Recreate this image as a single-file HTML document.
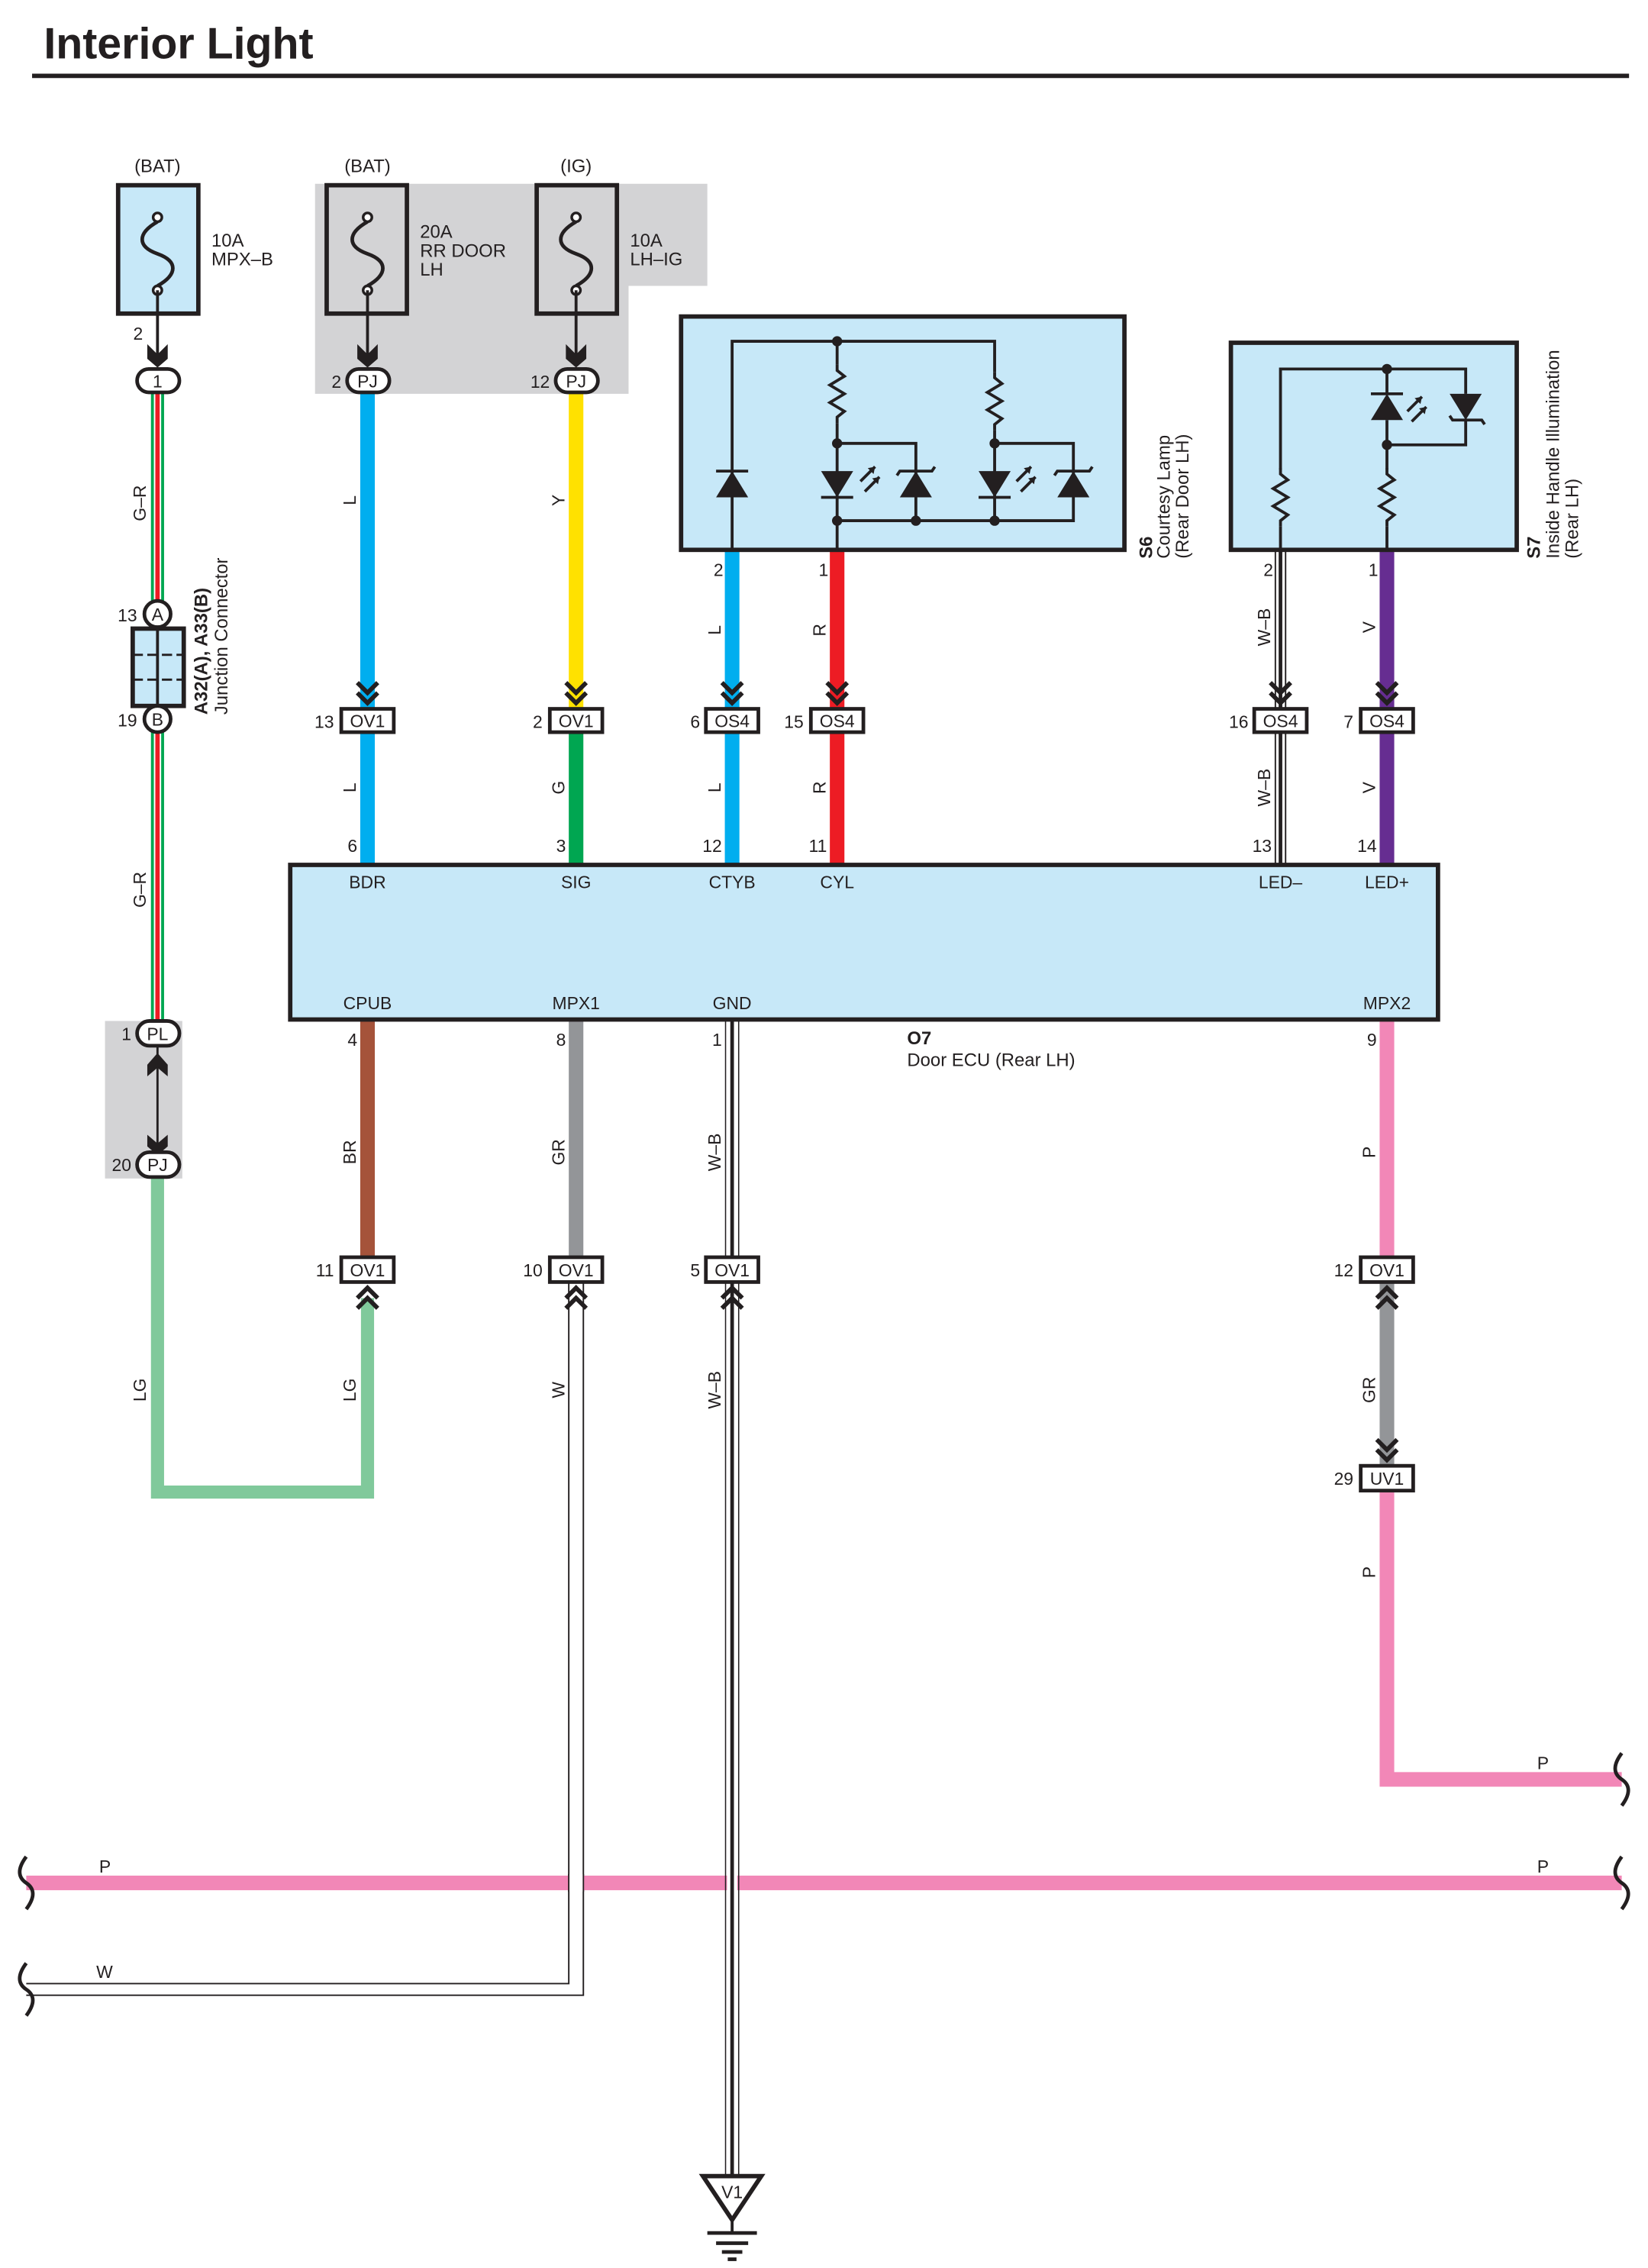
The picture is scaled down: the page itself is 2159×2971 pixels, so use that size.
<!DOCTYPE html>
<html><head><meta charset="utf-8"><style>
html,body{margin:0;padding:0;background:#fff}
svg{display:block}
text{font-family:"Liberation Sans",Arial,sans-serif;fill:#231f20}
</style></head><body>
<svg width="2159" height="2971" viewBox="0 0 1130 1555" preserveAspectRatio="none" xmlns="http://www.w3.org/2000/svg">
<defs>
<path id="chd" d="M-7,-17 L0,-10 L7,-17 M-7,-10 L0,-3 L7,-10" fill="none" stroke="#231f20" stroke-width="3"/>
<path id="chu" d="M-7,17 L0,10 L7,17 M-7,10 L0,3 L7,10" fill="none" stroke="#231f20" stroke-width="3"/>
<g id="fuse" fill="none" stroke="#231f20" stroke-width="2.5">
<circle cx="0" cy="-25" r="3" fill="#fff" stroke-width="1.8"/>
<path d="M0,-22 C-14,-14 -14,-5 0,0 C14,5 14,14 0,22"/>
<circle cx="0" cy="25" r="3" fill="#fff" stroke-width="1.8"/>
</g>
<path id="res" d="M0,0 L0,4 L5,8 L-5,14 L5,20 L-5,26 L5,32 L0,36 L0,40" fill="none" stroke="#231f20" stroke-width="2"/>
<path id="brk" d="M0,-18 C-6,-10 -6,-4 0,0 C6,4 6,10 0,18" fill="none" stroke="#231f20" stroke-width="2.5"/>
</defs>

<text x="30" y="40" font-size="30" font-weight="bold">Interior Light</text>
<line x1="22" y1="52" x2="1117" y2="52" stroke="#231f20" stroke-width="3"/>

<path d="M216,126 H485 V196 H431 V270 H216 Z" fill="#d3d3d5"/>
<rect x="72" y="700" width="53" height="108" fill="#d3d3d5"/>

<g font-size="12.5">
<text x="108" y="118" text-anchor="middle">(BAT)</text>
<text x="252" y="118" text-anchor="middle">(BAT)</text>
<text x="395" y="118" text-anchor="middle">(IG)</text>
<text x="145" y="169">10A</text><text x="145" y="182">MPX–B</text>
<text x="288" y="163">20A</text><text x="288" y="176">RR DOOR</text><text x="288" y="189">LH</text>
<text x="432" y="169">10A</text><text x="432" y="182">LH–IG</text>
</g>
<rect x="81" y="127" width="55" height="88" fill="#c7e8f8" stroke="#231f20" stroke-width="3"/>
<rect x="224" y="127" width="55" height="88" fill="#d3d3d5" stroke="#231f20" stroke-width="3"/>
<rect x="368" y="127" width="55" height="88" fill="#d3d3d5" stroke="#231f20" stroke-width="3"/>
<use href="#fuse" x="108" y="174"/><use href="#fuse" x="252" y="174"/><use href="#fuse" x="395" y="174"/>
<g stroke="#231f20" stroke-width="2">
<line x1="108" y1="199" x2="108" y2="246"/><line x1="252" y1="199" x2="252" y2="246"/><line x1="395" y1="199" x2="395" y2="246"/>
</g>
<g fill="#231f20">
<path d="M101,236 L108,243 L115,236 L115,246 L108,252 L101,246Z"/>
<path d="M245,236 L252,243 L259,236 L259,246 L252,252 L245,246Z"/>
<path d="M388,236 L395,243 L402,236 L402,246 L395,252 L388,246Z"/>
</g>
<text x="98" y="233" font-size="12" text-anchor="end">2</text>

<g fill="none">
<line x1="108" y1="268" x2="108" y2="700" stroke="#00a651" stroke-width="9"/>
<line x1="108" y1="268" x2="108" y2="700" stroke="#fff" stroke-width="5"/>
<line x1="108" y1="268" x2="108" y2="700" stroke="#ed1c24" stroke-width="3"/>
<line x1="252" y1="268" x2="252" y2="592" stroke="#00aeef" stroke-width="10"/>
<line x1="395" y1="268" x2="395" y2="487" stroke="#ffe100" stroke-width="10"/>
<line x1="395" y1="500" x2="395" y2="592" stroke="#00a651" stroke-width="10"/>
<line x1="502" y1="378" x2="502" y2="592" stroke="#00aeef" stroke-width="10"/>
<line x1="574" y1="378" x2="574" y2="592" stroke="#ed1c24" stroke-width="10"/>
<line x1="878" y1="378" x2="878" y2="592" stroke="#231f20" stroke-width="8"/>
<line x1="878" y1="378" x2="878" y2="592" stroke="#fff" stroke-width="6"/>
<line x1="878" y1="378" x2="878" y2="592" stroke="#231f20" stroke-width="2.5"/>
<line x1="951" y1="378" x2="951" y2="592" stroke="#662d91" stroke-width="10"/>
</g>

<g stroke="#231f20" stroke-width="2.5" fill="#fff">
<rect x="94" y="253" width="29" height="16" rx="8"/>
<rect x="238" y="253" width="29" height="16" rx="8"/>
<rect x="381" y="253" width="29" height="16" rx="8"/>
</g>
<g font-size="12" text-anchor="middle">
<text x="108" y="265.5">1</text><text x="252" y="265.5">PJ</text><text x="395" y="265.5">PJ</text>
</g>
<text x="234" y="266" font-size="12" text-anchor="end">2</text>
<text x="377" y="266" font-size="12" text-anchor="end">12</text>

<rect x="91" y="431" width="35" height="53" fill="#c7e8f8" stroke="#231f20" stroke-width="3"/>
<line x1="108" y1="431" x2="108" y2="484" stroke="#231f20" stroke-width="2"/>
<line x1="91" y1="449" x2="126" y2="449" stroke="#231f20" stroke-width="1.5" stroke-dasharray="7,3"/>
<line x1="91" y1="466" x2="126" y2="466" stroke="#231f20" stroke-width="1.5" stroke-dasharray="7,3"/>
<circle cx="108" cy="421" r="9" fill="#fff" stroke="#231f20" stroke-width="2.5"/>
<circle cx="108" cy="493" r="9" fill="#fff" stroke="#231f20" stroke-width="2.5"/>
<text x="108" y="425.5" font-size="12" text-anchor="middle">A</text>
<text x="108" y="497.5" font-size="12" text-anchor="middle">B</text>
<text x="94" y="426" font-size="12" text-anchor="end">13</text>
<text x="94" y="498" font-size="12" text-anchor="end">19</text>
<text transform="translate(142,490) rotate(-90)" font-size="12.5" font-weight="bold">A32(A), A33(B)</text>
<text transform="translate(156,490) rotate(-90)" font-size="12.5">Junction Connector</text>

<g font-size="12">
<text transform="translate(100,345) rotate(-90)" text-anchor="middle">G–R</text>
<text transform="translate(100,610) rotate(-90)" text-anchor="middle">G–R</text>
<text transform="translate(244,343) rotate(-90)" text-anchor="middle">L</text>
<text transform="translate(387,343) rotate(-90)" text-anchor="middle">Y</text>
<text transform="translate(494,432) rotate(-90)" text-anchor="middle">L</text>
<text transform="translate(566,432) rotate(-90)" text-anchor="middle">R</text>
<text transform="translate(871,430) rotate(-90)" text-anchor="middle">W–B</text>
<text transform="translate(943,430) rotate(-90)" text-anchor="middle">V</text>
<text transform="translate(244,540) rotate(-90)" text-anchor="middle">L</text>
<text transform="translate(387,540) rotate(-90)" text-anchor="middle">G</text>
<text transform="translate(494,540) rotate(-90)" text-anchor="middle">L</text>
<text transform="translate(566,540) rotate(-90)" text-anchor="middle">R</text>
<text transform="translate(871,540) rotate(-90)" text-anchor="middle">W–B</text>
<text transform="translate(943,540) rotate(-90)" text-anchor="middle">V</text>
<text transform="translate(244,790) rotate(-90)" text-anchor="middle">BR</text>
<text transform="translate(387,790) rotate(-90)" text-anchor="middle">GR</text>
<text transform="translate(494,790) rotate(-90)" text-anchor="middle">W–B</text>
<text transform="translate(943,790) rotate(-90)" text-anchor="middle">P</text>
<text transform="translate(100,953) rotate(-90)" text-anchor="middle">LG</text>
<text transform="translate(244,953) rotate(-90)" text-anchor="middle">LG</text>
<text transform="translate(387,953) rotate(-90)" text-anchor="middle">W</text>
<text transform="translate(494,953) rotate(-90)" text-anchor="middle">W–B</text>
<text transform="translate(943,953) rotate(-90)" text-anchor="middle">GR</text>
<text transform="translate(943,1078) rotate(-90)" text-anchor="middle">P</text>
</g>

<rect x="467" y="217" width="304" height="160" fill="#c7e8f8" stroke="#231f20" stroke-width="3"/>
<g stroke="#231f20" stroke-width="2" fill="none">
<path d="M502,378 V234 H682 V255"/>
<path d="M574,234 V250"/>
<path d="M574,290 V378"/>
<path d="M574,304 H628 V357"/>
<path d="M574,357 H736 V304 H682 V295"/>
<path d="M682,304 V357"/>
</g>
<use href="#res" x="574" y="250"/><use href="#res" x="682" y="255"/>
<g fill="#231f20">
<circle cx="574" cy="234" r="3.5"/><circle cx="574" cy="304" r="3.5"/><circle cx="574" cy="357" r="3.5"/>
<circle cx="628" cy="357" r="3.5"/><circle cx="682" cy="304" r="3.5"/><circle cx="682" cy="357" r="3.5"/>
<path d="M491,341 L513,341 L502,323Z"/>
<path d="M563,323 L585,323 L574,341Z"/>
<path d="M617,341 L639,341 L628,323Z"/>
<path d="M671,323 L693,323 L682,341Z"/>
<path d="M725,341 L747,341 L736,323Z"/>
</g>
<g stroke="#231f20" stroke-width="2" fill="none">
<line x1="491" y1="323" x2="513" y2="323"/>
<line x1="563" y1="341" x2="585" y2="341"/>
<path d="M615,326 L617,323 L639,323 L641,320"/>
<line x1="671" y1="341" x2="693" y2="341"/>
<path d="M723,326 L725,323 L747,323 L749,320"/>
<path d="M590,330 L600,320 M593,337 L603,327 M697,330 L707,320 M700,337 L710,327"/>
</g>
<g fill="#231f20"><path d="M600,320 l-5,1 l4,4z M603,327 l-5,1 l4,4z M707,320 l-5,1 l4,4z M710,327 l-5,1 l4,4z"/></g>
<text transform="translate(790,383) rotate(-90)" font-size="12.5" font-weight="bold">S6</text>
<text transform="translate(802,383) rotate(-90)" font-size="12.5">Courtesy Lamp</text>
<text transform="translate(815,383) rotate(-90)" font-size="12.5">(Rear Door LH)</text>

<rect x="844" y="235" width="196" height="142" fill="#c7e8f8" stroke="#231f20" stroke-width="3"/>
<g stroke="#231f20" stroke-width="2" fill="none">
<path d="M878,378 V361 M878,322 V253 H1005 V270"/>
<path d="M951,253 V270 M951,288 V322 M951,361 V378"/>
<path d="M951,305 H1005 V288"/>
<line x1="940" y1="270" x2="962" y2="270"/>
<path d="M994,285 L996,288 L1016,288 L1018,291"/>
<path d="M965,282 L975,272 M968,289 L978,279"/>
</g>
<use href="#res" x="878" y="321"/><use href="#res" x="951" y="321"/>
<g fill="#231f20">
<circle cx="951" cy="253" r="3.5"/><circle cx="951" cy="305" r="3.5"/>
<path d="M940,288 L962,288 L951,270Z"/>
<path d="M994,270 L1016,270 L1005,288Z"/>
<path d="M975,272 l-5,1 l4,4z M978,279 l-5,1 l4,4z"/>
</g>
<text transform="translate(1056,383) rotate(-90)" font-size="12.5" font-weight="bold">S7</text>
<text transform="translate(1069,383) rotate(-90)" font-size="12.5">Inside Handle Illumination</text>
<text transform="translate(1082,383) rotate(-90)" font-size="12.5">(Rear LH)</text>

<g font-size="12" text-anchor="end">
<text x="496" y="395">2</text><text x="568" y="395">1</text>
<text x="873" y="395">2</text><text x="945" y="395">1</text>
</g>

<use href="#chd" x="252" y="485"/><use href="#chd" x="395" y="485"/>
<use href="#chd" x="502" y="485"/><use href="#chd" x="574" y="485"/>
<use href="#chd" x="878" y="485"/><use href="#chd" x="951" y="485"/>

<g stroke="#231f20" stroke-width="2.5" fill="#fff">
<rect x="234" y="486" width="36" height="16"/><rect x="377" y="486" width="36" height="16"/>
<rect x="484" y="486" width="36" height="16"/><rect x="556" y="486" width="36" height="16"/>
<rect x="860" y="486" width="36" height="16"/><rect x="933" y="486" width="36" height="16"/>
</g>
<g font-size="12" text-anchor="middle">
<text x="252" y="498.5">OV1</text><text x="395" y="498.5">OV1</text>
<text x="502" y="498.5">OS4</text><text x="574" y="498.5">OS4</text>
<text x="878" y="498.5">OS4</text><text x="951" y="498.5">OS4</text>
</g>
<g font-size="12" text-anchor="end">
<text x="229" y="499">13</text><text x="372" y="499">2</text><text x="480" y="499">6</text>
<text x="551" y="499">15</text><text x="856" y="499">16</text><text x="928" y="499">7</text>
</g>

<g fill="none">
<path d="M108,806 V1023 H252 V890" stroke="#80c99b" stroke-width="9"/>
<line x1="252" y1="700" x2="252" y2="862" stroke="#a5533a" stroke-width="10"/>
<line x1="395" y1="700" x2="395" y2="862" stroke="#939598" stroke-width="10"/>
<path d="M390,880 V1360 H18" stroke="#231f20" stroke-width="1"/>
<path d="M400,880 V1368 H18" stroke="#231f20" stroke-width="1"/>
<line x1="951" y1="700" x2="951" y2="862" stroke="#f287b7" stroke-width="10"/>
<line x1="951" y1="880" x2="951" y2="1005" stroke="#939598" stroke-width="10"/>
<path d="M951,1022 V1220 H1112" stroke="#f287b7" stroke-width="10"/>
<line x1="18" y1="1291" x2="1112" y2="1291" stroke="#f287b7" stroke-width="10"/>
<line x1="390" y1="1285" x2="390" y2="1297" stroke="#231f20" stroke-width="1"/>
<line x1="400" y1="1285" x2="400" y2="1297" stroke="#231f20" stroke-width="1"/>
<line x1="395" y1="1285" x2="395" y2="1297" stroke="#fff" stroke-width="9"/>
<line x1="502" y1="700" x2="502" y2="1492" stroke="#fff" stroke-width="7"/>
<line x1="497.5" y1="700" x2="497.5" y2="1492" stroke="#231f20" stroke-width="0.8"/>
<line x1="506.5" y1="700" x2="506.5" y2="1492" stroke="#231f20" stroke-width="0.8"/>
<line x1="502" y1="700" x2="502" y2="1492" stroke="#231f20" stroke-width="2.5"/>
</g>
<use href="#brk" x="18" y="1291"/><use href="#brk" x="18" y="1364"/>
<use href="#brk" x="1112" y="1291"/><use href="#brk" x="1112" y="1220"/>
<g font-size="12">
<text x="68" y="1284">P</text><text x="1054" y="1284">P</text><text x="1054" y="1213">P</text><text x="66" y="1356">W</text>
</g>

<line x1="108" y1="718" x2="108" y2="790" stroke="#231f20" stroke-width="1.5"/>
<path d="M101,730 L108,722 L115,730 L115,738 L108,732 L101,738Z" fill="#231f20"/>
<path d="M101,778 L108,784 L115,778 L115,786 L108,792 L101,786Z" fill="#231f20"/>
<g stroke="#231f20" stroke-width="2.5" fill="#fff">
<rect x="94" y="700" width="29" height="17" rx="8.5"/>
<rect x="94" y="790" width="29" height="17" rx="8.5"/>
</g>
<text x="108" y="713" font-size="12" text-anchor="middle">PL</text>
<text x="108" y="803" font-size="12" text-anchor="middle">PJ</text>
<text x="90" y="713" font-size="12" text-anchor="end">1</text>
<text x="90" y="803" font-size="12" text-anchor="end">20</text>

<rect x="199" y="593" width="787" height="106" fill="#c7e8f8" stroke="#231f20" stroke-width="3"/>
<g font-size="12" text-anchor="middle">
<text x="252" y="609">BDR</text><text x="395" y="609">SIG</text><text x="502" y="609">CTYB</text><text x="574" y="609">CYL</text>
<text x="878" y="609">LED–</text><text x="951" y="609">LED+</text>
<text x="252" y="692">CPUB</text><text x="395" y="692">MPX1</text><text x="502" y="692">GND</text><text x="951" y="692">MPX2</text>
</g>
<g font-size="12" text-anchor="end">
<text x="245" y="584">6</text><text x="388" y="584">3</text><text x="495" y="584">12</text><text x="567" y="584">11</text>
<text x="872" y="584">13</text><text x="944" y="584">14</text>
<text x="245" y="717">4</text><text x="388" y="717">8</text><text x="495" y="717">1</text><text x="944" y="717">9</text>
</g>
<text x="622" y="716" font-size="12.5" font-weight="bold">O7</text>
<text x="622" y="731" font-size="12.5">Door ECU (Rear LH)</text>

<g stroke="#231f20" stroke-width="2.5" fill="#fff">
<rect x="234" y="862" width="36" height="17"/><rect x="377" y="862" width="36" height="17"/>
<rect x="484" y="862" width="36" height="17"/><rect x="933" y="862" width="36" height="17"/>
<rect x="933" y="1005" width="36" height="17"/>
</g>
<g font-size="12" text-anchor="middle">
<text x="252" y="875">OV1</text><text x="395" y="875">OV1</text><text x="502" y="875">OV1</text><text x="951" y="875">OV1</text>
<text x="951" y="1018">UV1</text>
</g>
<g font-size="12" text-anchor="end">
<text x="229" y="875">11</text><text x="372" y="875">10</text><text x="480" y="875">5</text><text x="928" y="875">12</text>
<text x="928" y="1018">29</text>
</g>
<use href="#chu" x="252" y="880"/><use href="#chu" x="395" y="880"/><use href="#chu" x="502" y="880"/><use href="#chu" x="951" y="880"/>
<use href="#chd" x="951" y="1004"/>

<path d="M482,1492 H522 L502,1522Z" fill="#fff" stroke="#231f20" stroke-width="3"/>
<text x="502" y="1507" font-size="12" text-anchor="middle">V1</text>
<line x1="502" y1="1522" x2="502" y2="1530" stroke="#231f20" stroke-width="2"/>
<line x1="485" y1="1531" x2="519" y2="1531" stroke="#231f20" stroke-width="2.5"/>
<line x1="491" y1="1538" x2="513" y2="1538" stroke="#231f20" stroke-width="2.5"/>
<line x1="495" y1="1544" x2="509" y2="1544" stroke="#231f20" stroke-width="2.5"/>
<line x1="499" y1="1549" x2="505" y2="1549" stroke="#231f20" stroke-width="2.5"/>
</svg>
</body></html>
